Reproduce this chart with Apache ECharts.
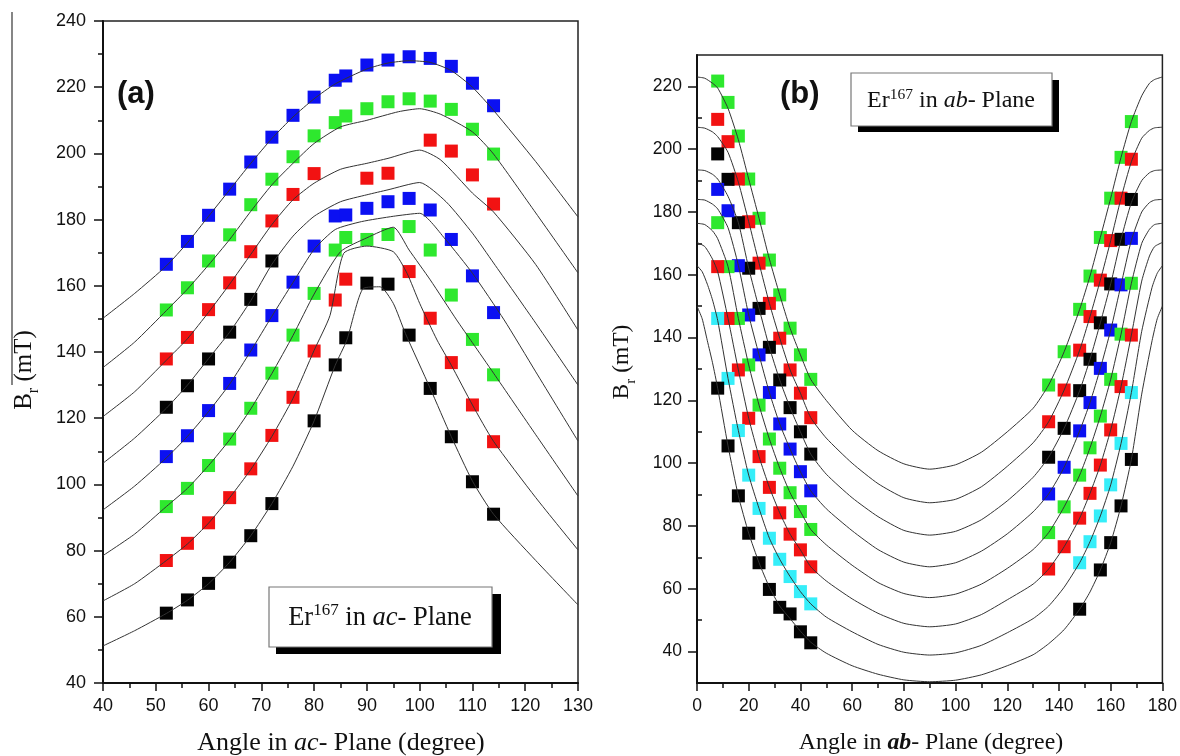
<!DOCTYPE html>
<html>
<head>
<meta charset="utf-8">
<script src="https://cdn.jsdelivr.net/npm/echarts@6/dist/echarts.min.js"></script>
<style>
html,body{margin:0;padding:0;background:#fff;}
#chart{width:1180px;height:756px;}
</style>
</head>
<body>
<div id="chart"></div>
<script>
// ---------- Panel (a): Er167 resonance field in the ac-plane ----------
const acAngles = [52,56,60,64,68,72,76,80,84,86,90,94,98,102,106,110,114];
const acBlue1  = [166.5,173.4,181.3,189.2,197.4,204.9,211.5,217.0,222.1,223.4,226.7,228.2,229.2,228.7,226.3,221.2,214.4];
const acGreen1 = [152.7,159.4,167.5,175.4,184.5,192.2,199.0,205.3,209.3,211.3,213.5,215.6,216.5,215.8,213.3,207.3,199.8];
const acRed1   = [137.9,144.4,152.8,160.9,170.3,179.6,187.6,193.9,null,null,192.5,194.0,null,204.0,200.7,193.5,184.7];
const acBlack1 = [123.3,129.8,137.9,146.0,155.9,167.5,null,null,null,null,null,null,null,null,null,null,null];
const acBlue2  = [108.4,114.7,122.3,130.5,140.6,151.0,161.1,172.0,181.1,181.4,183.4,185.4,186.4,182.9,174.0,163.0,151.9];
const acGreen2 = [93.3,98.8,105.7,113.7,123.0,133.6,145.1,157.7,170.8,174.6,174.0,175.5,177.9,170.8,157.2,143.8,133.1];
const acRed2   = [77.0,82.2,88.4,96.0,104.7,114.8,126.3,140.3,155.7,162.0,null,null,164.3,150.2,136.8,124.0,112.9];
const acBlack2 = [61.1,65.1,70.1,76.5,84.5,94.2,null,119.2,136.1,144.3,160.8,160.5,145.1,129.0,114.4,100.8,91.0];

// simulated angular variation, [angle, field] pairs
const acFit1 = [[40,150.2],[46,157.7],[52,166],[56,173],[60,181],[64,189],[68,197],[72,204.5],[76,211],[80,216.5],[84,221],[90,225.5],[94,227.3],[98,228],[102,227.5],[106,225],[110,220],[114,213],[122,197.5],[130,180.8]];
const acFit2 = [[40,135.3],[46,143],[52,152.5],[56,159],[60,166.3],[64,174],[68,182.5],[72,190.5],[76,197],[80,203],[85,208],[90,210],[96,212.6],[100,213.5],[104,211.8],[110,206.5],[114,199.8],[122,182],[130,163.9]];
const acFit3 = [[40,120.5],[46,128],[52,137.5],[56,144],[60,152],[64,160.5],[68,169.5],[72,178.5],[76,186],[80,191],[85,195.2],[90,197],[94,198.5],[100,201],[104,198],[110,188],[114,182.3],[122,166.4],[130,146.6]];
const acFit4 = [[40,106.4],[46,114],[52,123],[56,130],[60,138],[64,146],[68,155.5],[72,166.5],[76,175],[80,181],[85,185.4],[90,187.5],[94,189],[100,191.2],[105,185.4],[110,175.9],[114,166.9],[122,148.7],[130,130]];
const acFit5 = [[40,92.3],[46,99.5],[52,108],[56,114.5],[60,122],[64,130.3],[68,140.3],[72,150.8],[76,161],[80,171],[84,177],[89,179.4],[95,181],[100,181.9],[105,173.8],[110,163.8],[116,149.7],[122,134],[130,113.1]];
const acFit6 = [[40,78.5],[46,85],[52,93.3],[56,98.8],[60,105.7],[64,113.5],[68,122.8],[72,133.5],[76,145],[80,157.5],[85,170.3],[90,174.5],[95,177.7],[98,170.8],[102,161.8],[107,149.7],[110,142.8],[114,133.6],[122,115],[130,96.5]];
const acFit7 = [[40,64.8],[46,70],[52,77],[56,82],[60,88.3],[64,96],[68,104.5],[72,114.5],[76,126],[80,140.5],[83,151],[85.6,169.8],[90,172],[95,170.3],[97.6,163.8],[100,154.7],[103.3,143.6],[106,136],[110,124],[114,113],[122,96],[130,80.2]];
const acFit8 = [[40,51.2],[46,55.8],[52,61],[56,65],[60,70],[64,76.5],[68,84.5],[72,94.2],[76,105.5],[80,119.2],[84,136],[86.2,143.6],[89.3,159.2],[92.5,159.7],[95,154.7],[97.3,145.6],[102,129],[106,114.4],[110,101],[114,91],[122,77],[130,63.6]];

// ---------- Panel (b): Er167 resonance field in the ab-plane ----------
const abAnglesL = [8,12,16,20,24,28,32,36,40,44];
const abAnglesR = [136,142,148,152,156,160,164,168];
const abGreen1L = [221.7,214.9,204.2,190.5,178,164.7,153.6,143,134.5,126.7];
const abRed1L   = [209.5,202.4,190.5,176.9,163.7,150.9,139.8,129.7,122.3,114.5];
const abBlack1L = [198.5,190.4,176.6,162.1,149.3,136.9,126.5,117.7,110,102.9];
const abBlueL   = [187.2,180.4,162.9,147.2,134.5,122.5,112.5,104.5,97.3,91.2];
const abGreen2L = [176.6,162.6,146.1,131.3,118.5,107.7,98.4,90.6,84.6,78.9];
const abRed2L   = [162.6,146.1,129.7,114.3,102.1,92.3,84.2,77.4,72.4,67];
const abCyanL   = [146.1,127,110.4,96.2,85.6,76.1,69.4,63.9,59.1,55.2];
const abBlack2L = [123.9,105.5,89.6,77.7,68.3,59.8,54.1,52,46.3,42.8];
const abGreen1R = [124.9,135.5,149,159.6,171.9,184.4,197.4,208.8];
const abRed1R   = [113.2,123.3,136,146.7,158.3,170.9,184.4,196.8];
const abBlack1R = [101.9,111.1,123.1,133.1,144.7,157.1,171.3,184];
const abBlueR   = [90.2,98.7,110.3,119.3,130.2,142.4,156.8,171.6];
const abGreen2R = [77.9,86.1,96.2,104.9,115,126.7,141.1,157.3];
const abRed2R   = [66.3,73.4,82.5,90.4,99.4,110.6,124.4,140.8];
const abCyanR   = [null,null,68.3,75,83.2,93.1,106.3,122.5];
const abBlack2R = [null,null,53.5,null,66,74.7,86.4,101.2];

const abFit1 = [[0,223],[3,222.6],[6,221],[8,219.5],[12,213],[16,203],[20,190.5],[24,178],[28,165],[32,153.6],[36,143],[40,134.5],[44,126.7],[50,120],[60,110.5],[70,104],[80,99.8],[90,98.1],[100,99.5],[110,103.5],[120,110],[130,117.5],[136,124.9],[142,135.5],[148,149],[152,159.6],[156,171.9],[160,184.4],[164,197.4],[168,208.8],[172,217],[175,221],[177,222.2],[180,223]];
const abFit2 = [[0,207],[3,206.7],[6,205.5],[8,204],[12,199],[16,189.5],[20,176.9],[24,163.7],[28,150.9],[32,139.8],[36,129.7],[40,122.3],[44,114.5],[50,108],[60,100],[70,93.5],[80,89],[90,87.4],[100,88.5],[110,92.5],[120,99],[130,106.5],[136,113.2],[142,123.3],[148,136],[152,146.7],[156,158.3],[160,170.9],[164,184.4],[168,196],[172,203.5],[175,206],[177,206.8],[180,207]];
const abFit3 = [[0,193.4],[3,193.2],[6,192],[8,190.5],[12,185],[16,176.6],[20,162.1],[24,149.3],[28,136.9],[32,126.5],[36,117.7],[40,110],[44,102.9],[50,96.5],[60,89],[70,83],[80,78.6],[90,77.1],[100,78.3],[110,82],[120,88],[130,95.5],[136,101.9],[142,111.1],[148,123.1],[152,133.1],[156,144.7],[160,157.1],[164,171.3],[168,183],[172,190],[175,192.5],[177,193.2],[180,193.4]];
const abFit4 = [[0,184],[3,183.8],[6,182.5],[8,181],[12,175],[16,163],[20,147.2],[24,134.5],[28,122.5],[32,112.5],[36,104.5],[40,97.3],[44,91.2],[50,85.5],[60,78.5],[70,72.5],[80,68.5],[90,67],[100,68.3],[110,72],[120,77.5],[130,84.5],[136,90.2],[142,98.7],[148,110.3],[152,119.3],[156,130.2],[160,142.4],[164,156.8],[168,171],[172,180],[175,183],[177,183.8],[180,184]];
const abFit5 = [[0,176.4],[3,176],[6,174],[8,171.5],[12,162.6],[16,146.1],[20,131.3],[24,118.5],[28,107.7],[32,98.4],[36,90.6],[40,84.6],[44,78.9],[50,74],[60,67.5],[70,62],[80,58.5],[90,57.2],[100,58.3],[110,61.5],[120,66.5],[130,72.5],[136,77.9],[142,86.1],[148,96.2],[152,104.9],[156,115],[160,126.7],[164,141.1],[168,157.3],[172,170],[175,174.5],[177,176],[180,176.4]];
const abFit6 = [[0,170.3],[3,169],[6,165],[8,161],[12,146.1],[16,129.7],[20,114.3],[24,102.1],[28,92.3],[32,84.2],[36,77.4],[40,72.4],[44,67],[50,62.5],[60,56.8],[70,52.2],[80,49],[90,47.9],[100,48.8],[110,51.8],[120,56.5],[130,61.5],[136,66.3],[142,73.4],[148,82.5],[152,90.4],[156,99.4],[160,110.6],[164,124.4],[168,140.8],[172,158],[175,166],[177,169],[180,170.3]];
const abFit7 = [[0,162.9],[2,161],[4,157],[6,152],[8,145.5],[12,127],[16,110.4],[20,96.2],[24,85.6],[28,76.1],[32,69.4],[36,63.9],[40,59.1],[44,55.2],[50,51],[60,46.3],[70,42.3],[80,39.8],[90,38.9],[100,39.6],[110,42],[120,46],[130,50.5],[136,54.5],[142,60.5],[148,68.3],[152,75],[156,83.2],[160,93.1],[164,106.3],[168,122.5],[172,142],[176,156],[178,160.5],[180,162.9]];
const abFit8 = [[0,150],[2,146],[4,139],[6,132],[8,123.9],[12,105.5],[16,89.6],[20,77.7],[24,68.3],[28,60.5],[32,54.5],[36,50.5],[40,46.5],[44,43],[50,39.5],[60,35.5],[70,32.8],[80,31],[90,30.4],[100,30.9],[110,32.6],[120,35.5],[130,39],[136,42.5],[142,47],[148,53.5],[152,59],[156,66],[160,74.7],[164,86.4],[168,101.2],[172,122],[176,139],[178,146],[180,150]];

// axis tick values
const acXTicks = [40,50,60,70,80,90,100,110,120,130];
const acYTicks = [40,60,80,100,120,140,160,180,200,220,240];
const abXTicks = [0,20,40,60,80,100,120,140,160,180];
const abYTicks = [40,60,80,100,120,140,160,180,200,220];
const abYMinorTicks = [50,70,90,110,130,150,170,190,210];

const COLORS = { blue: '#0b10f2', green: '#2ee82e', red: '#f21212', black: '#030303', cyan: '#35eef9' };

function pairs(xs, ys) {
  return xs.map((x, i) => [x, ys[i]]).filter(p => p[1] != null);
}

const chart = echarts.init(document.getElementById('chart'), null, { renderer: 'canvas' });

const lineStyle = { color: '#333', width: 1 };
function fit(data, panel) {
  return {
    type: 'line', xAxisIndex: panel, yAxisIndex: panel, data: data,
    showSymbol: false, symbol: 'none', smooth: 0.2, silent: true, z: 4,
    lineStyle: lineStyle
  };
}
function marks(xs, ys, color, panel) {
  return {
    type: 'scatter', xAxisIndex: panel, yAxisIndex: panel, data: pairs(xs, ys),
    symbol: 'rect', symbolSize: 13, silent: true, z: 3,
    itemStyle: { color: color, opacity: 1 }
  };
}

const tickFont = { fontFamily: 'Liberation Sans', fontSize: 18, color: '#111' };
const tickFontB = { fontFamily: 'Liberation Sans', fontSize: 17.5, color: '#111' };
const serif = 'Liberation Serif';

const option = {
  animation: false,
  backgroundColor: '#fff',
  grid: [
    { left: 103, top: 21, width: 475, height: 662, show: true, borderColor: '#222', borderWidth: 1.5, backgroundColor: 'transparent' },
    { left: 697, top: 55, width: 469, height: 628, show: true, borderColor: '#222', borderWidth: 1.5, backgroundColor: 'transparent' }
  ],
  xAxis: [
    { type: 'value', gridIndex: 0, min: 40, max: 130, interval: 10,
      axisLine: { show: true, onZero: false, lineStyle: { color: '#111', width: 2 } },
      axisTick: { show: true, length: 8, lineStyle: { color: '#111', width: 1.5 } },
      minorTick: { show: true, splitNumber: 2, length: 5, lineStyle: { color: '#111', width: 1.5 } },
      axisLabel: Object.assign({ margin: 14, customValues: acXTicks }, tickFont),
      splitLine: { show: false } },
    { type: 'value', gridIndex: 1, min: 0, max: 180, interval: 20,
      axisLine: { show: true, onZero: false, lineStyle: { color: '#111', width: 2 } },
      axisTick: { show: true, length: 8, lineStyle: { color: '#111', width: 1.5 } },
      minorTick: { show: true, splitNumber: 2, length: 5, lineStyle: { color: '#111', width: 1.5 } },
      axisLabel: Object.assign({ margin: 14, customValues: abXTicks }, tickFontB),
      splitLine: { show: false } }
  ],
  yAxis: [
    { type: 'value', gridIndex: 0, min: 40, max: 240, interval: 20,
      axisLine: { show: true, onZero: false, lineStyle: { color: '#111', width: 2 } },
      axisTick: { show: true, length: 9, lineStyle: { color: '#111', width: 1.5 } },
      minorTick: { show: true, splitNumber: 2, length: 5, lineStyle: { color: '#111', width: 1.5 } },
      axisLabel: Object.assign({ margin: 17, customValues: acYTicks }, tickFont),
      splitLine: { show: false } },
    { type: 'value', gridIndex: 1, min: 30, max: 230,
      axisLine: { show: true, onZero: false, lineStyle: { color: '#111', width: 2 } },
      axisTick: { show: true, length: 9, customValues: abYTicks, lineStyle: { color: '#111', width: 1.5 } },
      axisLabel: Object.assign({ margin: 15, customValues: abYTicks }, tickFontB),
      splitLine: { show: false } },
    { type: 'value', gridIndex: 1, min: 30, max: 230,
      axisLine: { show: false },
      axisTick: { show: true, length: 5, customValues: abYMinorTicks, lineStyle: { color: '#111', width: 1.5 } },
      axisLabel: { show: false },
      splitLine: { show: false } }
  ],
  series: [
    marks(acAngles, acBlue1, COLORS.blue, 0),
    marks(acAngles, acGreen1, COLORS.green, 0),
    marks(acAngles, acRed1, COLORS.red, 0),
    marks(acAngles, acBlack1, COLORS.black, 0),
    marks(acAngles, acBlue2, COLORS.blue, 0),
    marks(acAngles, acGreen2, COLORS.green, 0),
    marks(acAngles, acRed2, COLORS.red, 0),
    marks(acAngles, acBlack2, COLORS.black, 0),
    fit(acFit1, 0), fit(acFit2, 0), fit(acFit3, 0), fit(acFit4, 0),
    fit(acFit5, 0), fit(acFit6, 0), fit(acFit7, 0), fit(acFit8, 0),

    marks(abAnglesL, abGreen1L, COLORS.green, 1),
    marks(abAnglesL, abRed1L, COLORS.red, 1),
    marks(abAnglesL, abBlack1L, COLORS.black, 1),
    marks(abAnglesL, abBlueL, COLORS.blue, 1),
    marks(abAnglesL, abGreen2L, COLORS.green, 1),
    marks(abAnglesL, abRed2L, COLORS.red, 1),
    marks(abAnglesL, abCyanL, COLORS.cyan, 1),
    marks(abAnglesL, abBlack2L, COLORS.black, 1),
    marks(abAnglesR, abGreen1R, COLORS.green, 1),
    marks(abAnglesR, abRed1R, COLORS.red, 1),
    marks(abAnglesR, abBlack1R, COLORS.black, 1),
    marks(abAnglesR, abBlueR, COLORS.blue, 1),
    marks(abAnglesR, abGreen2R, COLORS.green, 1),
    marks(abAnglesR, abRed2R, COLORS.red, 1),
    marks(abAnglesR, abCyanR, COLORS.cyan, 1),
    marks(abAnglesR, abBlack2R, COLORS.black, 1),
    fit(abFit1, 1), fit(abFit2, 1), fit(abFit3, 1), fit(abFit4, 1),
    fit(abFit5, 1), fit(abFit6, 1), fit(abFit7, 1), fit(abFit8, 1)
  ],
  graphic: [
    // bar over the B_r symbol
    { type: 'line', shape: { x1: 12, y1: 12, x2: 12, y2: 385 }, style: { stroke: '#444', lineWidth: 1.3 } },
    // panel tags
    { type: 'text', x: 117, y: 94, style: { text: '(a)', fontFamily: 'Liberation Sans', fontWeight: 'bold', fontSize: 31, fill: '#111', verticalAlign: 'middle' } },
    { type: 'text', x: 780, y: 94, style: { text: '(b)', fontFamily: 'Liberation Sans', fontWeight: 'bold', fontSize: 31, fill: '#111', verticalAlign: 'middle' } },
    // caption box, panel (a)
    { type: 'rect', shape: { x: 276, y: 594, width: 225, height: 60 }, style: { fill: '#000' } },
    { type: 'rect', shape: { x: 269, y: 587, width: 223, height: 60 }, style: { fill: '#fff', stroke: '#777', lineWidth: 1.2 } },
    { type: 'text', x: 380, y: 618, style: {
        text: '{n|Er}{sup|167}{n| in }{i|ac}{n|- Plane}', align: 'center', verticalAlign: 'middle',
        rich: {
          n: { fontFamily: serif, fontSize: 26.5, lineHeight: 32, fill: '#111' },
          i: { fontFamily: serif, fontSize: 26.5, lineHeight: 32, fontStyle: 'italic', fill: '#111' },
          sup: { fontFamily: serif, fontSize: 17, verticalAlign: 'top', fill: '#111' }
        } } },
    // caption box, panel (b)
    { type: 'rect', shape: { x: 858, y: 80, width: 201, height: 52 }, style: { fill: '#000' } },
    { type: 'rect', shape: { x: 851, y: 73, width: 201, height: 53 }, style: { fill: '#fff', stroke: '#777', lineWidth: 1.2 } },
    { type: 'text', x: 951, y: 101, style: {
        text: '{n|Er}{sup|167}{n| in }{i|ab}{n|- Plane}', align: 'center', verticalAlign: 'middle',
        rich: {
          n: { fontFamily: serif, fontSize: 24, lineHeight: 29, fill: '#111' },
          i: { fontFamily: serif, fontSize: 24, lineHeight: 29, fontStyle: 'italic', fill: '#111' },
          sup: { fontFamily: serif, fontSize: 15.5, verticalAlign: 'top', fill: '#111' }
        } } },
    // axis titles
    { type: 'text', x: 341, y: 743, style: {
        text: '{n|Angle in }{i|ac}{n|- Plane (degree)}', align: 'center', verticalAlign: 'middle',
        rich: {
          n: { fontFamily: serif, fontSize: 26, fill: '#111' },
          i: { fontFamily: serif, fontSize: 26, fontStyle: 'italic', fill: '#111' }
        } } },
    { type: 'text', x: 931, y: 743, style: {
        text: '{n|Angle in }{i|ab}{n|- Plane (degree)}', align: 'center', verticalAlign: 'middle',
        rich: {
          n: { fontFamily: serif, fontSize: 23.8, fill: '#111' },
          i: { fontFamily: serif, fontSize: 23.8, fontStyle: 'italic', fontWeight: 'bold', fill: '#111' }
        } } },
    { type: 'text', x: 24, y: 370, rotation: Math.PI / 2, style: {
        text: '{n|B}{s|r}{n| (mT)}', align: 'center', verticalAlign: 'middle',
        rich: {
          n: { fontFamily: serif, fontSize: 25, lineHeight: 35, fill: '#111' },
          s: { fontFamily: serif, fontSize: 16, verticalAlign: 'bottom', fill: '#111' }
        } } },
    { type: 'text', x: 622, y: 362, rotation: Math.PI / 2, style: {
        text: '{n|B}{s|r}{n| (mT)}', align: 'center', verticalAlign: 'middle',
        rich: {
          n: { fontFamily: serif, fontSize: 23.5, lineHeight: 33, fill: '#111' },
          s: { fontFamily: serif, fontSize: 15, verticalAlign: 'bottom', fill: '#111' }
        } } }
  ]
};

chart.setOption(option);
</script>
</body>
</html>
